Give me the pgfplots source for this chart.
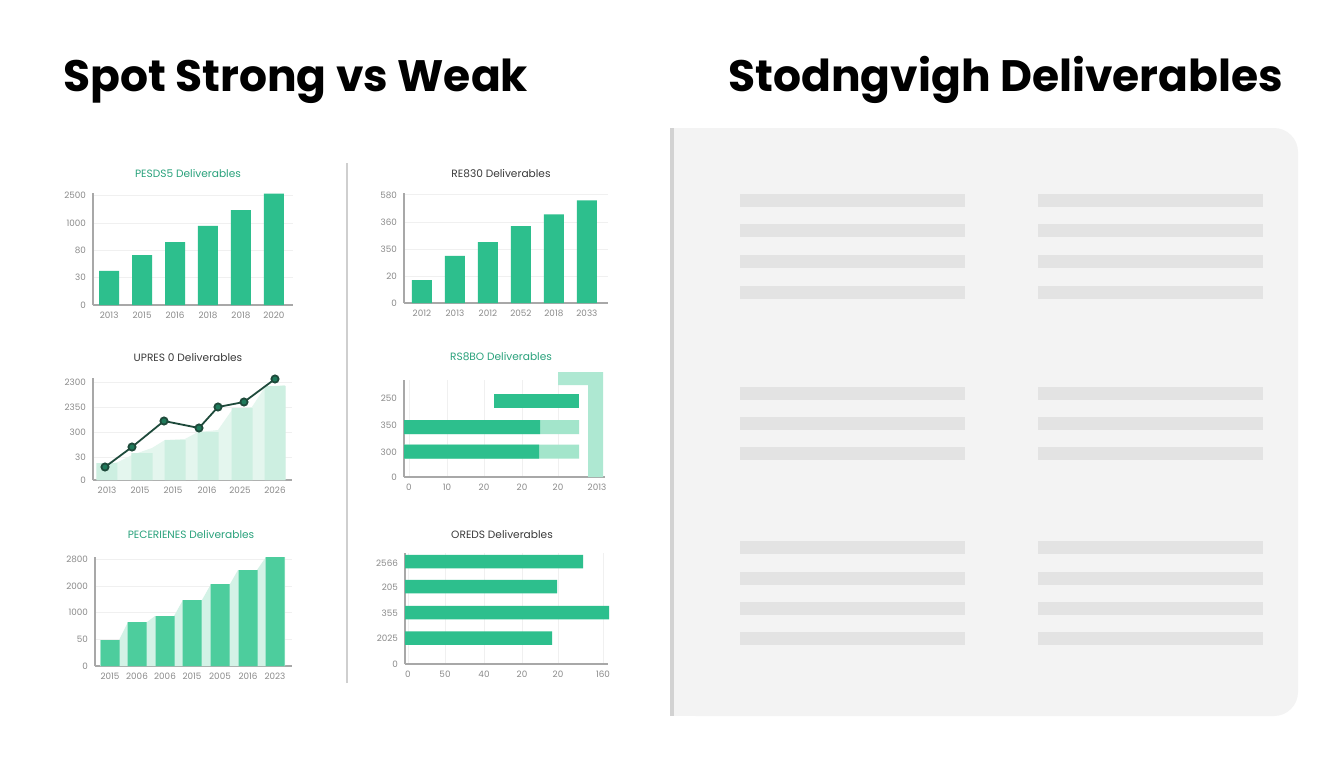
\documentclass[border=0pt]{standalone}
\usepackage{fontspec}
\setmainfont{Poppins}
\usepackage{pgfplots}
\pgfplotsset{compat=1.18}

\definecolor{barg}{HTML}{2DBF8D}
\definecolor{titleg}{HTML}{2AA27C}
\definecolor{darktext}{HTML}{3A3A3A}
\definecolor{ticklab}{HTML}{8A8A8A}
\definecolor{axisgray}{HTML}{A8A8A8}
\definecolor{gridgray}{HTML}{F0F0F0}
\definecolor{mintbar}{HTML}{CDEFE1}
\definecolor{mintarea}{HTML}{E4F6EE}
\definecolor{linedark}{HTML}{1E4A3B}
\definecolor{markg}{HTML}{1F7A5B}
\definecolor{barfive}{HTML}{4DCD9D}
\definecolor{areafive}{HTML}{D3F2E6}
\definecolor{lightfour}{HTML}{A3E5CB}
\definecolor{bracketg}{HTML}{AEE8D2}
\definecolor{panel}{HTML}{F3F3F3}
\definecolor{panelborder}{HTML}{D2D2D2}
\definecolor{placeholder}{HTML}{E3E3E3}
\definecolor{divider}{HTML}{CFCFCF}

\pgfplotsset{
  mini/.style={
    scale only axis, anchor=south west,
    axis x line*=bottom, axis y line*=left,
    axis line style={draw=axisgray, line width=0.6pt, -},
    tick style={draw=none},
    tick label style={font=\fontsize{4.4}{5}\selectfont, text=ticklab},
    major grid style={draw=gridgray, line width=0.4pt},
    clip=false,
  }
}

\begin{document}
\begin{tikzpicture}
\path[use as bounding box, fill=white] (0pt,0pt) rectangle (672pt,384pt);

% headlines
\node[anchor=base west, inner sep=0pt, font=\fontsize{22}{25}\selectfont\bfseries] at (31.5pt,338pt) {Spot Strong vs Weak};
\node[anchor=base west, inner sep=0pt, font=\fontsize{22}{25}\selectfont\bfseries] at (364pt,338pt) {Stodngvigh Deliverables};

% right panel
\fill[panel, rounded corners=12pt] (336pt,26pt) rectangle (649pt,320pt);
\fill[panel] (336pt,26pt) rectangle (360pt,320pt);
\fill[panelborder] (335pt,26pt) rectangle (337pt,320pt);
\foreach \yy in {284,269,253.5,238,187.5,172.5,157.5,110.5,95,80,65}{
  \fill[placeholder] (370pt,\yy pt-3.25pt) rectangle (482.5pt,\yy pt+3.25pt);
  \fill[placeholder] (519pt,\yy pt-3.25pt) rectangle (631.5pt,\yy pt+3.25pt);
}

% divider
\draw[divider, line width=0.8pt] (173.5pt,42.5pt) -- (173.5pt,302.5pt);

% chart titles
\node[font=\fontsize{5.3}{6}\selectfont, text=titleg] at (94pt,297pt) {PESDS5 Deliverables};
\node[font=\fontsize{5.3}{6}\selectfont, text=darktext] at (250.5pt,297pt) {RE830 Deliverables};
\node[font=\fontsize{5.3}{6}\selectfont, text=darktext] at (94pt,205pt) {UPRES 0 Deliverables};
\node[font=\fontsize{5.3}{6}\selectfont, text=titleg] at (250.5pt,205.5pt) {RS8BO Deliverables};
\node[font=\fontsize{5.3}{6}\selectfont, text=titleg] at (95.5pt,116.5pt) {PECERIENES Deliverables};
\node[font=\fontsize{5.3}{6}\selectfont, text=darktext] at (251pt,116.5pt) {OREDS Deliverables};

% chart 1
\begin{axis}[mini, at={(46.5pt,231.5pt)}, width=100pt, height=56pt,
  xmin=-0.49, xmax=5.58, ymin=0, ymax=4.1,
  xtick={0,1,2,3,4,5}, xticklabels={2013,2015,2016,2018,2018,2020},
  ytick={0,1,2,3,4}, yticklabels={0,30,80,1000,2500},
  ymajorgrids]
\addplot[ybar, bar width=10pt, bar shift=0pt, fill=barg, draw=none]
  coordinates {(0,1.25)(1,1.83)(2,2.3)(3,2.9)(4,3.47)(5,4.08)};
\end{axis}

% chart 2
\begin{axis}[mini, at={(202pt,232.5pt)}, width=102pt, height=55pt,
  xmin=-0.545, xmax=5.64, ymin=0, ymax=4.07,
  xtick={0,1,2,3,4,5}, xticklabels={2012,2013,2012,2052,2018,2033},
  ytick={0,1,2,3,4}, yticklabels={0,20,350,360,580},
  ymajorgrids]
\addplot[ybar, bar width=10pt, bar shift=0pt, fill=barg, draw=none]
  coordinates {(0,0.85)(1,1.74)(2,2.25)(3,2.84)(4,3.28)(5,3.80)};
\end{axis}

% chart 3
\begin{axis}[mini, at={(46.5pt,144pt)}, width=99.5pt, height=51pt,
  xmin=0, xmax=199, ymin=0, ymax=102,
  xtick={14,47,80,114,147,182}, xticklabels={2013,2015,2015,2016,2025,2026},
  ytick={0,23,48,73,98}, yticklabels={0,30,300,2350,2300},
  ymajorgrids]
\addplot[fill=mintarea, draw=none]
  coordinates {(4,0)(4,13)(25,18)(39,25)(59,32)(72,40)(92,41)(105,48)(125,50)(139,70)(159,73)(172,93)(192,95)(192,0)};
\addplot[ybar, bar width=10.5pt, bar shift=0pt, fill=mintbar, draw=none]
  coordinates {(14,17)(49,27)(82,40)(115,48)(149,72)(182,94)};
\addplot[color=linedark, line width=0.9pt, mark=*, mark size=1.8pt, mark options={fill=markg, draw=linedark}]
  coordinates {(12,13)(39,33)(71,59)(106,52)(125,73)(151,78)(182,101)};
\end{axis}

% chart 4
\begin{axis}[mini, at={(202pt,145.5pt)}, width=100.5pt, height=48.5pt,
  xmin=0, xmax=201, ymin=0, ymax=97,
  xtick={5,43,80,118,154,193}, xticklabels={0,10,20,20,20,2013},
  ytick={0,25,52,79}, yticklabels={0,300,350,250},
  xmajorgrids]
\addplot[fill=bracketg, draw=none]
  coordinates {(154,105)(199,105)(199,0)(184,0)(184,92)(154,92)};
\addplot[xbar, bar width=7pt, bar shift=0pt, fill=lightfour, draw=none]
  coordinates {(175,50)(175,25.5)};
\addplot[xbar, bar width=7pt, bar shift=0pt, fill=barg, draw=none]
  coordinates {(136,50)(135,25.5)};
\addplot[fill=barg, draw=none]
  coordinates {(90,69)(175,69)(175,83)(90,83)};
\end{axis}

% chart 5
\begin{axis}[mini, at={(47.5pt,51pt)}, width=98.5pt, height=54.5pt,
  xmin=0, xmax=197, ymin=0, ymax=109,
  xtick={15,42,70,97,125,153,180}, xticklabels={2015,2006,2006,2015,2005,2016,2023},
  ytick={0,27,54,80,107}, yticklabels={0,50,1000,2000,2800},
  ymajorgrids]
\addplot[fill=areafive, draw=none]
  coordinates {(5,0)(5,26)(24,26)(33,44)(52,44)(60,50)(79,50)(88,66)(107,66)(116,82)(135,82)(143,96)(162,96)(171,109)(190,109)(190,0)};
\addplot[ybar, bar width=9.5pt, bar shift=0pt, fill=barfive, draw=none]
  coordinates {(15,26)(42,44)(70,50)(97,66)(125,82)(153,96)(180,109)};
\end{axis}

% chart 6
\begin{axis}[mini, at={(202.5pt,52pt)}, width=101.5pt, height=55.5pt,
  xmin=0, xmax=203, ymin=0, ymax=111,
  xtick={3,40,79,117,153,198}, xticklabels={0,50,40,20,20,160},
  ytick={0,26,51,77,101}, yticklabels={0,2025,355,205,2566},
  xmajorgrids]
\addplot[xbar, bar width=6.75pt, bar shift=0pt, fill=barg, draw=none]
  coordinates {(178,102.5)(152,77.5)(204,51.5)(147,26)};
\end{axis}
\end{tikzpicture}
\end{document}
